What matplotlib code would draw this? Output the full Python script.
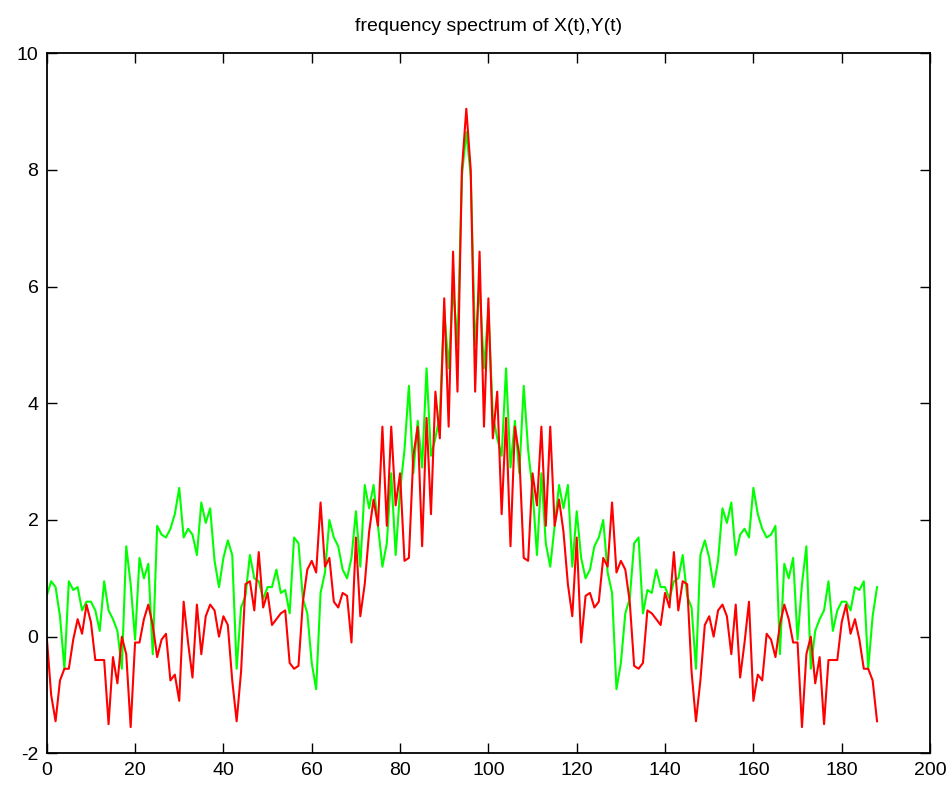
import numpy as np
import matplotlib
matplotlib.use("Agg")
import matplotlib.pyplot as plt

# spectrum values, index 0..188
red_vals = [
    0.0, -1.0, -1.45, -0.75, -0.55, -0.55, -0.05, 0.3, 0.05, 0.55,
    0.25, -0.4, -0.4, -0.4, -1.5, -0.35, -0.8, 0.0, -0.3, -1.55,
    -0.1, -0.1, 0.3, 0.55, 0.2, -0.35, -0.05, 0.05, -0.75, -0.65,
    -1.1, 0.6, -0.1, -0.7, 0.55, -0.3, 0.35, 0.55, 0.45, 0.0,
    0.35, 0.2, -0.75, -1.45, -0.6, 0.9, 0.95, 0.45, 1.45, 0.5,
    0.75, 0.2, 0.3, 0.4, 0.45, -0.45, -0.55, -0.5, 0.6, 1.15,
    1.3, 1.1, 2.3, 1.2, 1.35, 0.6, 0.5, 0.75, 0.7, -0.1,
    1.7, 0.35, 0.9, 1.8, 2.35, 1.9, 3.6, 1.9, 3.6, 2.25,
    2.8, 1.3, 1.35, 3.1, 3.6, 1.55, 3.75, 2.1, 4.2, 3.4,
    5.8, 3.6, 6.6, 4.2, 8.0, 9.05,
    8.0, 4.2, 6.6, 3.6, 5.8, 3.4, 4.2, 2.1, 3.75, 1.55,
    3.6, 3.1, 1.35, 1.3, 2.8, 2.25, 3.6, 1.9, 3.6, 1.9,
    2.35, 1.8, 0.9, 0.35, 1.7, -0.1, 0.7, 0.75, 0.5, 0.6,
    1.35, 1.2, 2.3, 1.1, 1.3, 1.15, 0.6, -0.5, -0.55, -0.45,
    0.45, 0.4, 0.3, 0.2, 0.75, 0.5, 1.45, 0.45, 0.95, 0.9,
    -0.6, -1.45, -0.75, 0.2, 0.35, 0.0, 0.45, 0.55, 0.35, -0.3,
    0.55, -0.7, -0.1, 0.6, -1.1, -0.65, -0.75, 0.05, -0.05, -0.35,
    0.2, 0.55, 0.3, -0.1, -0.1, -1.55, -0.3, 0.0, -0.8, -0.35,
    -1.5, -0.4, -0.4, -0.4, 0.25, 0.55, 0.05, 0.3, -0.05, -0.55,
    -0.55, -0.75, -1.45,
]

green_vals = [
    0.7, 0.95, 0.85, 0.35, -0.55, 0.95, 0.8, 0.85, 0.45, 0.6,
    0.6, 0.45, 0.1, 0.95, 0.45, 0.3, 0.1, -0.55, 1.55, 0.9,
    -0.05, 1.35, 1.0, 1.25, -0.3, 1.9, 1.75, 1.7, 1.85, 2.1,
    2.55, 1.7, 1.85, 1.75, 1.4, 2.3, 1.95, 2.2, 1.3, 0.85,
    1.35, 1.65, 1.4, -0.55, 0.5, 0.7, 1.4, 1.0, 0.95, 0.65,
    0.85, 0.85, 1.15, 0.75, 0.8, 0.4, 1.7, 1.6, 0.65, 0.4,
    -0.45, -0.9, 0.75, 1.1, 2.0, 1.7, 1.55, 1.15, 1.0, 1.35,
    2.15, 1.2, 2.6, 2.2, 2.6, 1.9, 1.2, 1.6, 2.8, 1.4,
    2.5, 3.2, 4.3, 2.8, 3.7, 2.9, 4.6, 3.1, 3.4, 3.8,
    5.6, 4.6, 6.0, 5.0, 7.9, 8.65,
    7.9, 5.0, 6.0, 4.6, 5.6, 3.8, 3.4, 3.1, 4.6, 2.9,
    3.7, 2.8, 4.3, 3.2, 2.5, 1.4, 2.8, 1.6, 1.2, 1.9,
    2.6, 2.2, 2.6, 1.2, 2.15, 1.35, 1.0, 1.15, 1.55, 1.7,
    2.0, 1.1, 0.75, -0.9, -0.45, 0.4, 0.65, 1.6, 1.7, 0.4,
    0.8, 0.75, 1.15, 0.85, 0.85, 0.65, 0.95, 1.0, 1.4, 0.7,
    0.5, -0.55, 1.4, 1.65, 1.35, 0.85, 1.3, 2.2, 1.95, 2.3,
    1.4, 1.75, 1.85, 1.7, 2.55, 2.1, 1.85, 1.7, 1.75, 1.9,
    -0.3, 1.25, 1.0, 1.35, -0.05, 0.9, 1.55, -0.55, 0.1, 0.3,
    0.45, 0.95, 0.1, 0.45, 0.6, 0.6, 0.45, 0.85, 0.8, 0.95,
    -0.55, 0.35, 0.85,
]

x_ticks = [0, 20, 40, 60, 80, 100, 120, 140, 160, 180, 200]
y_ticks = [-2, 0, 2, 4, 6, 8, 10]

plt.rcParams['font.family'] = ['Liberation Sans', 'DejaVu Sans']
plt.rcParams['axes.unicode_minus'] = False

fig = plt.figure(figsize=(9.5, 7.93), dpi=100)
ax = fig.add_axes([0.0492, 0.050, 0.9298, 0.8828])

ax.plot(np.arange(len(green_vals)), green_vals, color='#00ff00', lw=1.5)
ax.plot(np.arange(len(red_vals)), red_vals, color='#ff0000', lw=1.5)

ax.set_xlim(0, 200)
ax.set_ylim(-2, 10)
ax.set_xticks(x_ticks)
ax.set_yticks(y_ticks)
ax.tick_params(axis='both', which='both', direction='in', length=7, width=1,
               top=True, right=True, labelsize=14, colors='k', pad=6)
for s in ax.spines.values():
    s.set_linewidth(1.3)

ax.set_title('frequency spectrum of X(t),Y(t)', fontsize=14, pad=16)

plt.savefig('out.png', dpi=100)
